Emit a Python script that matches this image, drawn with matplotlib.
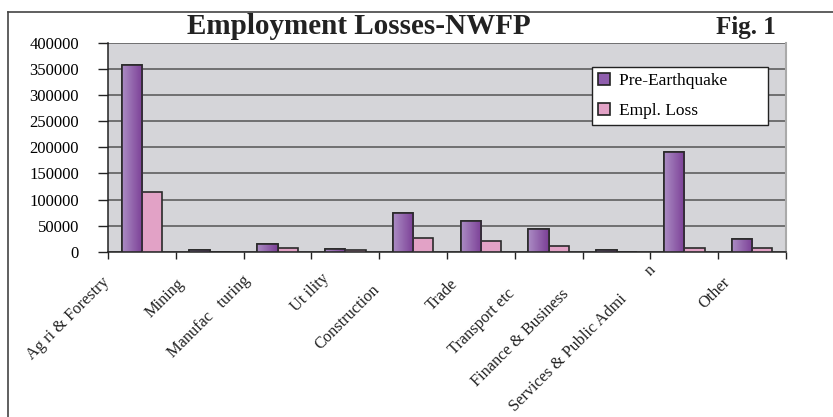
import numpy as np
import matplotlib
matplotlib.use("Agg")
import matplotlib.pyplot as plt
import matplotlib.transforms as mtransforms
from matplotlib.colors import LinearSegmentedColormap
from matplotlib.patches import Patch
from matplotlib.lines import Line2D

sectors = ["Ag ri & Forestry", "Mining", "Manufac   turing", "Ut ility", "Construction",
           "Trade", "Transport etc", "Finance & Business",
           "Services & Public Admi        n", "Other"]
pre_earthquake = [358000, 3000, 14000, 6000, 73500, 59500, 43000, 3000, 191000, 23500]
empl_loss = [115000, 0, 7000, 3000, 25500, 20500, 11500, 0, 7000, 7000]
y_ticks = [0, 50000, 100000, 150000, 200000, 250000, 300000, 350000, 400000]

# label placement (offset from group centre, pixels below axis)
label_dx = [-0.515, -0.41, -0.435, -0.27, -0.53, -0.38, -0.54, -0.73, -0.46, -0.355]
label_dy = [28, 30, 26, 24, 36, 30, 40, 40, 16, 28]

plt.rcParams['font.family'] = ['Liberation Serif', 'DejaVu Serif']

fig = plt.figure(figsize=(8.33, 4.17), dpi=100)
ax = fig.add_axes([108 / 833, 1 - 251.7 / 417, (786 - 108) / 833, (251.7 - 43) / 417])
ax.set_facecolor("#d5d5d9")

x = np.arange(len(sectors))
w = 0.3
purple_cmap = LinearSegmentedColormap.from_list("purp", ["#ab8cc4", "#7b3f96"])
b1 = ax.bar(x - w / 2, pre_earthquake, w, color="#8f5ead", edgecolor="#2a2a2a", linewidth=1.2, zorder=3)
b2 = ax.bar(x + w / 2, empl_loss, w, color="#e2a2c6", edgecolor="#2a2a2a", linewidth=1.2, zorder=3)

# horizontal gradient in the purple bars
grad = np.linspace(0, 1, 64).reshape(1, -1)
for rect in b1:
    if rect.get_height() <= 0:
        continue
    x0, y0 = rect.get_x(), rect.get_y()
    im = ax.imshow(grad, cmap=purple_cmap, aspect="auto", zorder=3.5,
                   extent=[x0, x0 + rect.get_width(), y0, y0 + rect.get_height()])
    im.set_clip_path(rect)
    edge = plt.Rectangle((x0, y0), rect.get_width(), rect.get_height(), fill=False,
                         edgecolor="#2a2a2a", linewidth=1.2, zorder=4)
    ax.add_patch(edge)

ax.set_xlim(-0.5, len(sectors) - 0.5)
ax.set_ylim(0, 400000)
ax.set_yticks(y_ticks)
ax.set_yticklabels([str(v) for v in y_ticks], fontsize=12)
ax.yaxis.grid(True, color="#555555", linewidth=1.1, zorder=1)
ax.set_axisbelow(True)

ax.set_xticks(np.arange(len(sectors) + 1) - 0.5)
ax.set_xticklabels([])
ax.tick_params(axis="x", direction="out", length=5, width=1, color="#222222")
ax.tick_params(axis="y", direction="out", length=7, width=1, color="#222222", pad=14)

for s in ["left", "bottom"]:
    ax.spines[s].set_color("#222222")
    ax.spines[s].set_linewidth(1.1)
ax.spines["top"].set_visible(False)
ax.spines["right"].set_color("#aaaaaa")
ax.spines["right"].set_linewidth(1.5)

for i, name in enumerate(sectors):
    tr = mtransforms.offset_copy(ax.get_xaxis_transform(), fig=fig, y=-label_dy[i], units="dots")
    ax.text(i + label_dx[i], 0, name, transform=tr, rotation=45, rotation_mode="anchor",
            ha="right", va="center", fontsize=11.8, color="#222222")

handles = [Patch(facecolor="#8f5ead", edgecolor="#222222", linewidth=1.2,
                 label="Pre-Earthquake" + "\u00a0" * 8),
           Patch(facecolor="#e2a2c6", edgecolor="#222222", linewidth=1.2, label="Empl. Loss")]
leg = fig.legend(handles=handles, loc="upper left", bbox_to_anchor=(592 / 833, 1 - 67 / 417),
                 borderaxespad=0, fontsize=12.5, frameon=True, fancybox=False, framealpha=1,
                 handlelength=0.7, handleheight=0.7, handletextpad=0.5,
                 labelspacing=0.8, borderpad=0.35)
leg.get_frame().set_edgecolor("#222222")
leg.get_frame().set_linewidth(1.0)

fig.text(359 / 833, 1 - 34 / 417, "Employment Losses-NWFP", ha="center", va="baseline",
         fontsize=21, fontweight="bold", color="#222222")
fig.text(746 / 833, 1 - 34 / 417, "Fig. 1", ha="center", va="baseline",
         fontsize=18, fontweight="bold", color="#222222")

# page frame (top and left only)
fig.add_artist(Line2D([8 / 833, 1], [1 - 12 / 417, 1 - 12 / 417], color="#444444", linewidth=1.2))
fig.add_artist(Line2D([8 / 833, 8 / 833], [0, 1 - 12 / 417], color="#444444", linewidth=1.2))

fig.savefig("out.png", dpi=100)
